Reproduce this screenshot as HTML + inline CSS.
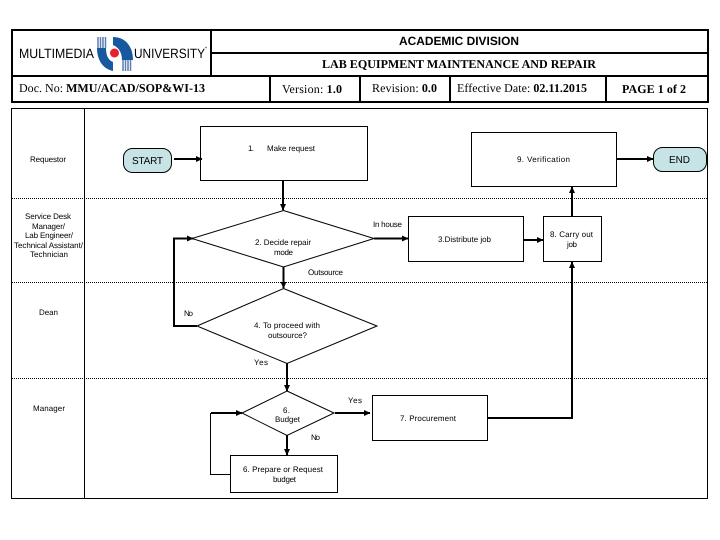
<!DOCTYPE html>
<html><head><meta charset="utf-8"><style>
html,body{margin:0;padding:0;background:#fff}
svg{display:block}
text{fill:#000;font-family:"Liberation Sans",sans-serif;font-size:8px;text-rendering:geometricPrecision}
.s{font-family:"Liberation Serif",serif;font-size:12px}
.b{font-weight:bold}
</style></head><body>
<svg width="720" height="540" viewBox="0 0 720 540" xmlns="http://www.w3.org/2000/svg">
<rect width="720" height="540" fill="#fff"/>
<defs>
<marker id="a" markerUnits="userSpaceOnUse" markerWidth="7" markerHeight="7" refX="6" refY="3.5" orient="auto"><path d="M0 0.5L6.500 3.500L0 6.500Z" fill="#000"/></marker>
</defs>
<!-- header -->
<g fill="none" stroke="#000" stroke-width="2">
<rect x="12" y="30" width="696" height="72"/>
<path d="M211 30V76M211 53H708M12 76H708M270 75V102M360 76V102M450 76V102M606 76V102"/>
</g>
<!-- logo -->
<text x="19" y="58" style="font-size:13.5px" textLength="75" lengthAdjust="spacingAndGlyphs" fill="#333">MULTIMEDIA</text>
<text x="134" y="58" style="font-size:13.5px" textLength="71" lengthAdjust="spacingAndGlyphs" fill="#333">UNIVERSITY</text>
<text x="205" y="50" style="font-size:5px" fill="#777">*</text>
<path d="M98 37V48M100.500 37V48M103 37V48M105.500 37V48" stroke="#5d7fb0" stroke-width="1.500"/>
<path d="M123 60V71M125.500 60V71M128 60V71M130.500 60V71" stroke="#5d7fb0" stroke-width="1.500"/>
<path d="M97 48H106C106 55 108 60 113 62V71C103 69 97 60 97 48Z" fill="#17589f"/>
<path d="M113 37C125 37 133 46 133 60H122C122 52 118 47 113 45Z" fill="#17589f"/>
<circle cx="114.500" cy="53" r="4.500" fill="#e8202a"/>
<!-- header text -->
<text x="399" y="45" class="b" style="font-size:12px" textLength="120" lengthAdjust="spacingAndGlyphs">ACADEMIC DIVISION</text>
<text x="322" y="68" class="s b" textLength="274" lengthAdjust="spacingAndGlyphs">LAB EQUIPMENT MAINTENANCE AND REPAIR</text>
<text x="19" y="92" class="s" textLength="186">Doc. No: <tspan class="b">MMU/ACAD/SOP&amp;WI-13</tspan></text>
<text x="282" y="93" class="s" textLength="60">Version: <tspan class="b">1.0</tspan></text>
<text x="372" y="92" class="s" textLength="65">Revision: <tspan class="b">0.0</tspan></text>
<text x="457" y="92" class="s" textLength="130">Effective Date: <tspan class="b">02.11.2015</tspan></text>
<text x="622" y="93" class="s b" textLength="64">PAGE 1 of 2</text>
<!-- swimlanes -->
<g fill="none" stroke="#000" shape-rendering="crispEdges">
<rect x="11.500" y="108.500" width="696" height="390"/>
<path d="M84.500 108V498"/>
<path d="M12 198.500H708M12 282.500H708M12 378.500H708" stroke-dasharray="1 1"/>
</g>
<!-- nodes -->
<g fill="#fff" stroke="#000" shape-rendering="crispEdges">
<rect x="200.500" y="126.500" width="167" height="54"/>
<rect x="471.500" y="132.500" width="145" height="54"/>
<rect x="408.500" y="216.500" width="115" height="45"/>
<rect x="543.500" y="216.500" width="58" height="45"/>
<rect x="372.500" y="395.500" width="115" height="45"/>
<rect x="230.500" y="455.500" width="107" height="37"/>
</g>
<g fill="#fff" stroke="#000">
<path d="M283.500 210.500L374 238.500L283.500 267L192 238.500Z"/>
<path d="M283.500 288.500L377 326L287 363.500L197 326Z"/>
<path d="M287 391L334 413L287 435.500L242 413Z"/>
</g>
<g fill="#c6e3e6" stroke="#000">
<rect x="123.500" y="148.500" width="48" height="24" rx="9"/>
<rect x="653.500" y="147.500" width="53" height="24" rx="9"/>
</g>
<!-- connectors -->
<g fill="none" stroke="#000" stroke-width="2">
<path d="M174 159H202" marker-end="url(#a)"/>
<path d="M616 159H653" marker-end="url(#a)"/>
<path d="M283 180V210" marker-end="url(#a)"/>
<path d="M374 238.500H408" marker-end="url(#a)"/>
<path d="M523 240H543" marker-end="url(#a)"/>
<path d="M572 217V187" marker-end="url(#a)"/>
<path d="M487 418H572V262" marker-end="url(#a)"/>
<path d="M283.500 267V288" marker-end="url(#a)"/>
<path d="M197 326H174V238.500H193" marker-end="url(#a)"/>
<path d="M287 363V391" marker-end="url(#a)"/>
<path d="M335 413H370" marker-end="url(#a)"/>
<path d="M287 435V455" marker-end="url(#a)"/>
<path d="M211 413H242" marker-end="url(#a)"/>
</g>
<path d="M230 474.500H210.500V413" fill="none" stroke="#000"/>
<!-- lane labels -->
<text x="30" y="162" textLength="36">Requestor</text>
<text x="25" y="219" textLength="46">Service Desk</text>
<text x="32" y="229" textLength="33">Manager/</text>
<text x="25" y="238" textLength="48">Lab Engineer/</text>
<text x="14" y="248" textLength="69">Technical Assistant/</text>
<text x="30" y="257" textLength="38">Technician</text>
<text x="39" y="315" textLength="19">Dean</text>
<text x="33" y="411" textLength="32">Manager</text>
<!-- node labels -->
<text x="132" y="164" style="font-size:10px" textLength="31" fill="#333">START</text>
<text x="669" y="163" style="font-size:10px" textLength="21" fill="#333">END</text>
<text x="248" y="151" textLength="6">1.</text>
<text x="267" y="151" textLength="48">Make request</text>
<text x="517" y="162" textLength="53">9. Verification</text>
<text x="255" y="245" textLength="56">2. Decide repair</text>
<text x="274" y="255" textLength="19">mode</text>
<text x="373" y="227" textLength="29">In house</text>
<text x="438" y="242" textLength="53">3.Distribute job</text>
<text x="550" y="237" textLength="43">8. Carry out</text>
<text x="567" y="247" textLength="10">job</text>
<text x="308" y="275" textLength="35">Outsource</text>
<text x="184" y="316" textLength="9">No</text>
<text x="254" y="328" textLength="66">4. To proceed with</text>
<text x="268" y="338" textLength="39">outsource?</text>
<text x="254" y="365" textLength="14">Yes</text>
<text x="348" y="403" textLength="14">Yes</text>
<text x="283" y="413" textLength="7">6.</text>
<text x="275" y="422" textLength="25">Budget</text>
<text x="311" y="440" textLength="9">No</text>
<text x="400" y="421" textLength="56">7. Procurement</text>
<text x="243" y="472" textLength="80">6. Prepare or Request</text>
<text x="273" y="482" textLength="23">budget</text>
</svg>
</body></html>
